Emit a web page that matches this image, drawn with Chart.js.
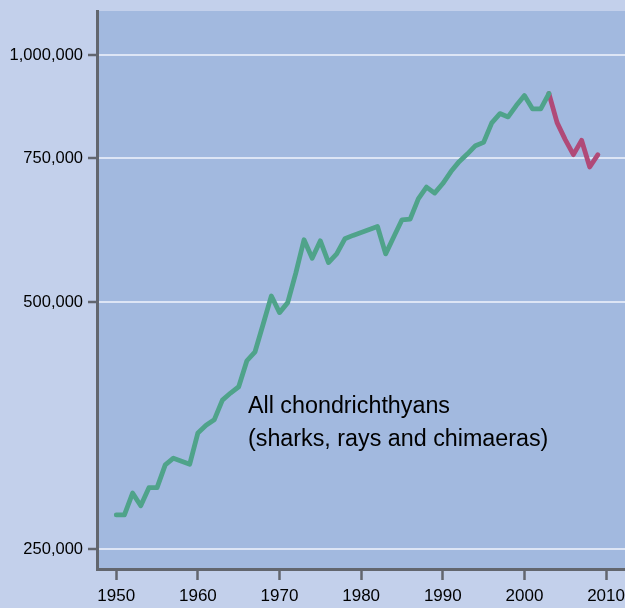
<!DOCTYPE html>
<html>
<head>
<meta charset="utf-8">
<script src="https://cdn.jsdelivr.net/npm/chart.js@4"></script>
<style>
  html, body { margin: 0; padding: 0; background: #c3d0eb; }
  #wrap { position: relative; width: 625px; height: 608px; }
  canvas { display: block; }
</style>
</head>
<body>
<div id="wrap"><canvas id="catch" width="625" height="608"></canvas></div>
<script>
// global catches of chondrichthyans (tonnes)
const years    = [1950,1951,1952,1953,1954,1955,1956,1957,1958,1959,
                  1960,1961,1962,1963,1964,1965,1966,1967,1968,1969,
                  1970,1971,1972,1973,1974,1975,1976,1977,1978,1979,
                  1980,1981,1982,1983,1984,1985,1986,1987,1988,1989,
                  1990,1991,1992,1993,1994,1995,1996,1997,1998,1999,
                  2000,2001,2002,2003];
const reported = [275400,275400,292800,282600,297300,297300,316900,322900,320200,317500,
                  346600,354100,359600,380100,387700,394600,424500,435300,470600,509200,
                  485900,499700,543200,596100,566100,594400,559200,573000,597800,603500,
                  608300,613400,618800,573000,601200,630500,631800,668800,691200,679600,
                  698100,722000,742300,758200,776400,783600,827600,849500,841600,868900,
                  893700,860800,860800,898700];
const recentYears = [2003,2004,2005,2006,2007,2008,2009];
const recent      = [898700,828300,789700,757000,788100,731200,757000];

const yTicks = [250000, 500000, 750000, 1000000];
const xTicks = [1950, 1960, 1970, 1980, 1990, 2000, 2010];

const AXIS = '#62666e';
const FONT = '"Liberation Sans", Arial, Helvetica, sans-serif';

const plotBg = {
  id: 'plotBg',
  beforeDraw(chart) {
    const { ctx, chartArea: a } = chart;
    ctx.save();
    ctx.fillStyle = '#c3d0eb';
    ctx.fillRect(0, 0, chart.width, chart.height);
    ctx.fillStyle = '#a2b9df';
    ctx.fillRect(a.left, a.top, a.right - a.left, a.bottom - a.top);
    ctx.restore();
  }
};

const note = {
  id: 'note',
  afterDraw(chart) {
    const ctx = chart.ctx;
    ctx.save();
    ctx.fillStyle = '#000';
    ctx.font = '23.3px ' + FONT;
    ctx.textBaseline = 'alphabetic';
    ctx.fillText('All chondrichthyans', 248, 413);
    ctx.fillText('(sharks, rays and chimaeras)', 248, 446);
    ctx.restore();
  }
};

new Chart(document.getElementById('catch'), {
  type: 'line',
  data: {
    datasets: [
      { data: years.map((y, i) => ({ x: y, y: reported[i] })), borderColor: '#4fa38a' },
      { data: recentYears.map((y, i) => ({ x: y, y: recent[i] })), borderColor: '#b04a78' }
    ]
  },
  options: {
    responsive: false,
    animation: false,
    devicePixelRatio: 1,
    layout: { padding: { top: 11, right: 0, bottom: 0, left: 0 } },
    elements: {
      line: { borderWidth: 4.8, tension: 0, borderCapStyle: 'round', borderJoinStyle: 'round' },
      point: { radius: 0 }
    },
    plugins: { legend: { display: false }, tooltip: { enabled: false } },
    scales: {
      x: {
        type: 'linear', min: 1947.64, max: 2012.32,
        afterBuildTicks: s => { s.ticks = xTicks.map(v => ({ value: v })); },
        afterFit: s => { s.height = 39; s.paddingLeft = 0; s.paddingRight = 0; },
        grid: { drawOnChartArea: false, tickLength: 11, tickColor: AXIS, tickWidth: 2.5 },
        border: { color: AXIS, width: 3 },
        ticks: { color: '#000', font: { family: FONT, size: 17 }, padding: 6, maxRotation: 0,
                 autoSkip: false, callback: v => String(v) }
      },
      y: {
        type: 'logarithmic', min: 236600, max: 1133000,
        afterBuildTicks: s => { s.ticks = yTicks.map(v => ({ value: v })); },
        afterFit: s => { s.width = 97; s.paddingTop = 0; s.paddingBottom = 0; },
        grid: { color: '#dde5f5', lineWidth: 2, tickLength: 9, tickColor: AXIS, tickWidth: 2.5 },
        border: { color: AXIS, width: 3 },
        ticks: { color: '#000', font: { family: FONT, size: 16.5 }, padding: 5, autoSkip: false,
                 callback: v => v.toLocaleString('en-US') }
      }
    }
  },
  plugins: [plotBg, note]
});
</script>
</body>
</html>
